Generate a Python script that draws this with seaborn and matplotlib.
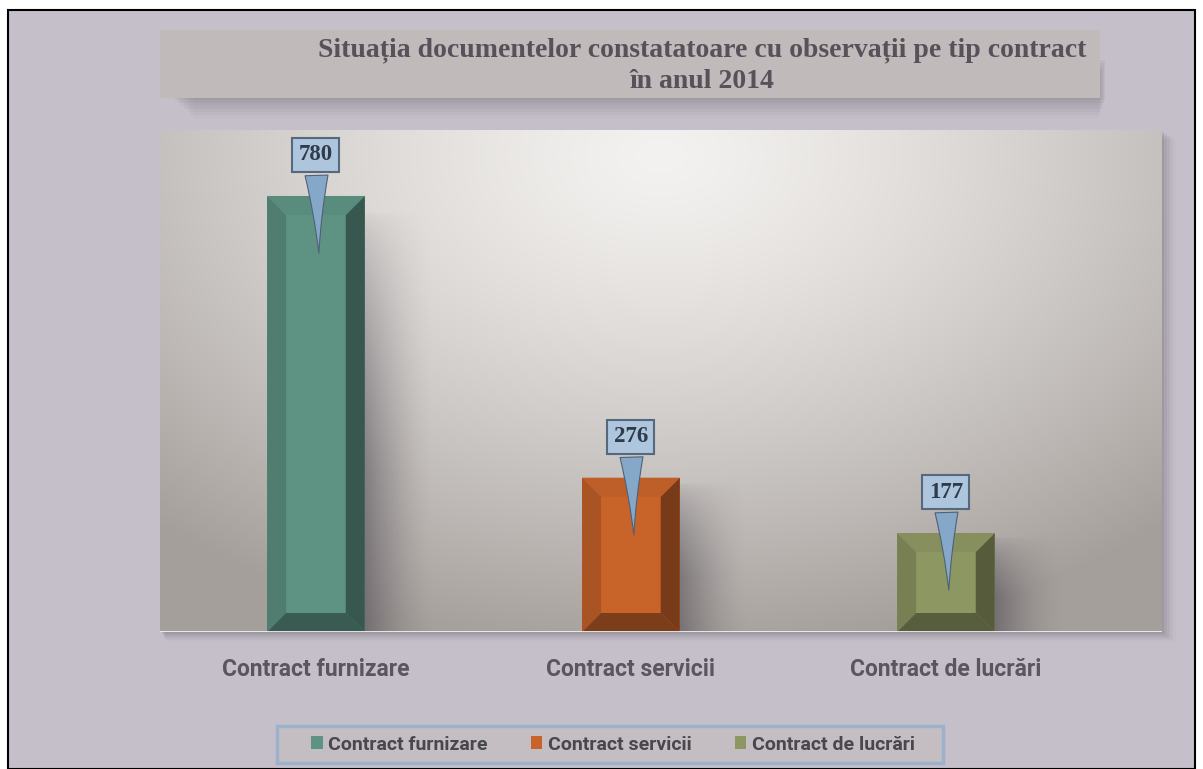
import numpy as np
import pandas as pd
import matplotlib.pyplot as plt
import seaborn as sns
from matplotlib.patches import Polygon, Rectangle
from matplotlib.colors import to_rgb

# Date
categorii = ['Contract furnizare', 'Contract servicii', 'Contract de lucrări']
valori = [780, 276, 177]
culori = ['#5e9383', '#c8632a', '#8d9762']
titlu = 'Situația documentelor constatatoare cu observații pe tip contract\nîn anul 2014'

df = pd.DataFrame({'tip': categorii, 'nr': valori})

sns.set_theme(style='white')
plt.rcParams['font.family'] = ['Roboto', 'DejaVu Sans']
plt.rcParams['patch.edgecolor'] = 'none'

W, H = 1203, 769
fig = plt.figure(figsize=(W / 100, H / 100), dpi=100, facecolor='white')

# fundal + chenar negru
fig.patches.append(Rectangle((8 / W, 0), (W - 16) / W, (H - 10) / H, transform=fig.transFigure,
                             fc='#c5bfc9', ec='black', lw=1.5, zorder=0))

# caseta titlu cu umbra
for i, a in enumerate([0.05, 0.05, 0.04, 0.04, 0.03, 0.03, 0.02]):
    fig.patches.append(Rectangle(((175 + i * 3) / W, (H - 100 - i * 3) / H), (930 - i * 4) / W, 40 / H,
                                 transform=fig.transFigure, fc='#3a3440', ec='none', alpha=a, zorder=1))
fig.patches.append(Rectangle((160 / W, (H - 98) / H), 940 / W, 68 / H, transform=fig.transFigure,
                             fc='#c0bbba', ec='none', zorder=2))
fig.text(702 / W, (H - 66) / H, titlu, ha='center', va='center', fontsize=20, fontweight='bold',
         family=['Liberation Serif', 'DejaVu Serif'], color='#57525a', linespacing=1.3, zorder=3)

# caseta legendei
fig.patches.append(Rectangle((279 / W, 4 / H), 666 / W, 37 / H, transform=fig.transFigure,
                             fc='#3a3440', ec='none', alpha=0.12, zorder=1))
fig.patches.append(Rectangle((277 / W, 6 / H), 666 / W, 37 / H, transform=fig.transFigure,
                             fc='#c4bec2', ec='#9cb2cc', lw=2.5, zorder=2))

# zona graficului
ax_l, ax_r, ax_t, ax_b = 160, 1162, 130, 632
ax = fig.add_axes([ax_l / W, (H - ax_b) / H, (ax_r - ax_l) / W, (ax_b - ax_t) / H])
ax.set_zorder(5)

# umbra zonei graficului
for i, a in enumerate([0.10, 0.08, 0.06, 0.04, 0.02]):
    fig.patches.append(Rectangle(((ax_l + 2 + i) / W, (H - ax_b - 2 - i * 2) / H), (ax_r - ax_l + i * 2) / W,
                                 (ax_b - ax_t) / H, transform=fig.transFigure, fc='#3a3440',
                                 ec='none', alpha=a, zorder=1))

# gradient radial de fundal
gx, gy = np.meshgrid(np.linspace(0, 1, 400), np.linspace(0, 1, 250))
dist = np.sqrt(((gx - 0.5) / 0.75) ** 2 + ((gy - 0.95) / 1.0) ** 2)
dist = np.clip(dist, 0, 1)
c_in = np.array(to_rgb('#f4f2f0'))
c_out = np.array(to_rgb('#a59f9b'))
img = c_in[None, None, :] * (1 - dist[..., None] ** 1.3) + c_out[None, None, :] * dist[..., None] ** 1.3
ax.imshow(img, extent=[0, 1, 0, 1], transform=ax.transAxes, origin='lower', aspect='auto', zorder=0)

sns.barplot(data=df, x='tip', y='nr', hue='tip', palette=culori, width=0.31,
            saturation=1, legend=True, ax=ax, zorder=3, edgecolor='none', linewidth=0)

xmin, xmax = -0.495, 2.686
ymin, ymax = 0, 898
ax.set_xlim(xmin, xmax)
ax.set_ylim(ymin, ymax)

px_x = (ax_r - ax_l) / (xmax - xmin)
px_y = (ax_b - ax_t) / (ymax - ymin)
bev = 19

def shade(c, f):
    return tuple(np.clip(np.array(to_rgb(c)) * f, 0, 1))

# umbra moale (gradient) pentru bare
sx, sy = np.meshgrid(np.linspace(0, 1, 60), np.linspace(0, 1, 100))
umbra = np.zeros((100, 60, 4))
umbra[..., :3] = to_rgb('#3a3440')
umbra[..., 3] = 0.45 * (1 - sx) ** 1.6 * np.clip((1 - sy) * 1.6, 0, 1) ** 0.6

for p, col, v in zip(ax.patches[:3], culori, valori):
    x0, w, h = p.get_x(), p.get_width(), p.get_height()
    x1 = x0 + w
    dx, dy = bev / px_x, bev / px_y
    ax.imshow(umbra, extent=[x1, x1 + 70 / px_x, 0, h * 0.97], origin='lower', aspect='auto', zorder=2)
    ax.add_patch(Polygon([(x0, 0), (x0, h), (x0 + dx, h - dy), (x0 + dx, dy)], fc=shade(col, 0.85), lw=0, zorder=4))
    ax.add_patch(Polygon([(x1, 0), (x1, h), (x1 - dx, h - dy), (x1 - dx, dy)], fc=shade(col, 0.60), lw=0, zorder=4))
    ax.add_patch(Polygon([(x0, h), (x1, h), (x1 - dx, h - dy), (x0 + dx, h - dy)], fc=shade(col, 0.95), lw=0, zorder=5))
    ax.add_patch(Polygon([(x0, 0), (x1, 0), (x1 - dx, dy), (x0 + dx, dy)], fc=shade(col, 0.62), lw=0, zorder=5))

    # eticheta de tip callout
    cx = x0 + w / 2
    ax.annotate(str(v), xy=(cx + 3 / px_x, v - 60 / px_y), xytext=(cx, v + 41 / px_y),
                ha='center', va='center', fontsize=16.5, fontweight='bold',
                family=['Liberation Serif', 'DejaVu Serif'], color='#2f3b4b', zorder=7,
                bbox=dict(boxstyle='square,pad=0.28', fc='#adc6dd', ec='#56687c', lw=1.5),
                arrowprops=dict(arrowstyle='wedge,tail_width=1.0,shrink_factor=0.4',
                                fc='#86a8c8', ec='#4f6176', lw=0.8))

ax.axhline(0, color='#f2f0f2', lw=2, zorder=6)
for s in ax.spines.values():
    s.set_visible(False)
ax.set_yticks([])
ax.set_xlabel('')
ax.set_ylabel('')
ax.tick_params(axis='x', length=0, pad=19)
ax.set_xticks(range(3))
ax.set_xticklabels(categorii, fontsize=16.5, fontweight='bold', color='#5a5560')

sns.move_legend(ax, 'center', bbox_to_anchor=(613 / W, 24.5 / H), bbox_transform=fig.transFigure,
                ncol=3, frameon=False, title=None, fontsize=14, handlelength=0.6, handleheight=0.6,
                handletextpad=0.3, columnspacing=2.2, borderpad=0.45, borderaxespad=0)
leg = ax.get_legend()
for t in leg.get_texts():
    t.set_color('#48464e')
    t.set_fontweight('bold')

plt.savefig('out.png', dpi=100)
